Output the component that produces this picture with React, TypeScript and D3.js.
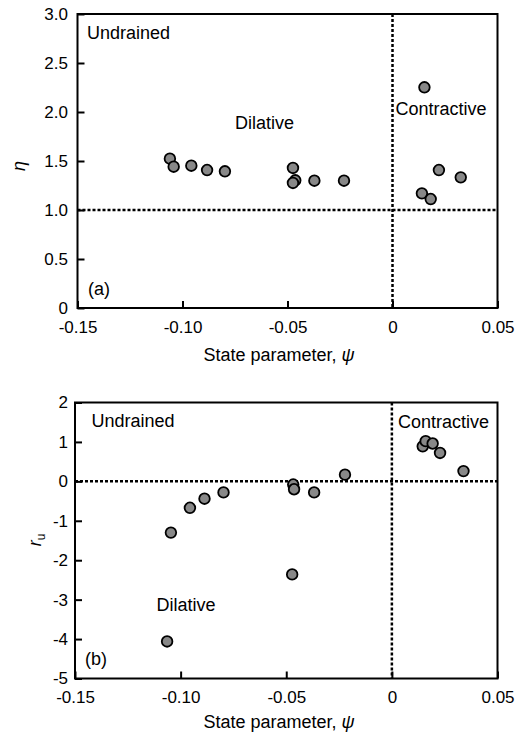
import React, { useEffect, useRef } from "react";
import * as d3 from "d3";

// panel (a): stress ratio eta vs state parameter
const psiA = [-0.106, -0.1042, -0.0958, -0.0883, -0.0798, -0.0474, -0.0463, -0.0474, -0.0372, -0.0231, 0.0152, 0.014, 0.0182, 0.0221, 0.0325];
const etaA = [1.524, 1.442, 1.452, 1.408, 1.395, 1.429, 1.303, 1.276, 1.299, 1.299, 2.252, 1.17, 1.112, 1.408, 1.333];

// panel (b): r_u vs state parameter
const psiB = [-0.1064, -0.1046, -0.0956, -0.0887, -0.0797, -0.0467, -0.0463, -0.0472, -0.0368, -0.0222, 0.0146, 0.016, 0.0193, 0.0228, 0.0339];
const ruB = [-4.06, -1.3, -0.67, -0.44, -0.28, -0.08, -0.2, -2.36, -0.28, 0.17, 0.89, 1.02, 0.96, 0.72, 0.26];

const xTicks = [-0.15, -0.1, -0.05, 0, 0.05];
const xTickLabels = ["-0.15", "-0.10", "-0.05", "0", "0.05"];
const etaTicks = [0, 0.5, 1, 1.5, 2, 2.5, 3];
const etaTickLabels = ["0", "0.5", "1.0", "1.5", "2.0", "2.5", "3.0"];
const ruTicks = [-5, -4, -3, -2, -1, 0, 1, 2];
const ruTickLabels = ["-5", "-4", "-3", "-2", "-1", "0", "1", "2"];

const FONT = "'Liberation Sans', Arial, sans-serif";

const panels = [
  {
    left: 77.5, right: 497.5, top: 14, bottom: 308,
    yDomain: [0, 3], yTicks: etaTicks, yTickLabels: etaTickLabels, yPad: 9.5,
    xs: psiA, ys: etaA, dashY: 1,
    yLabel: { x: 25, y: 166, main: "η", sub: "" },
    xTitle: { x: 279, y: 361 },
    notes: [
      { t: "Undrained", x: 87, y: 38.5 },
      { t: "Dilative", x: 235, y: 129 },
      { t: "Contractive", x: 395.5, y: 115 },
      { t: "(a)", x: 88, y: 295 },
    ],
  },
  {
    left: 75, right: 497.5, top: 402.5, bottom: 678.5,
    yDomain: [-5, 2], yTicks: ruTicks, yTickLabels: ruTickLabels, yPad: 7,
    xs: psiB, ys: ruB, dashY: 0,
    yLabel: { x: 41, y: 540, main: "r", sub: "u" },
    xTitle: { x: 279, y: 727.5 },
    notes: [
      { t: "Undrained", x: 91.5, y: 426.5 },
      { t: "Dilative", x: 156.5, y: 610.5 },
      { t: "Contractive", x: 398, y: 428 },
      { t: "(b)", x: 85, y: 665 },
    ],
  },
];

const App = () => {
  const svgRef = useRef<SVGSVGElement>(null);

  useEffect(() => {
    const svg = d3.select(svgRef.current);
    svg.selectAll("*").remove();

    panels.forEach((p) => {
      const g = svg.append("g");
      const x = d3.scaleLinear().domain([-0.15, 0.05]).range([p.left, p.right]);
      const y = d3.scaleLinear().domain(p.yDomain).range([p.bottom, p.top]);

      // x axis, ticks pointing inward
      const xa = g.append("g")
        .attr("transform", `translate(0,${p.bottom})`)
        .call(
          d3.axisBottom(x)
            .tickValues(xTicks)
            .tickFormat((d, i) => xTickLabels[i])
            .tickSizeInner(-7)
            .tickSizeOuter(0)
            .tickPadding(12.5)
        );
      // y axis
      const ya = g.append("g")
        .attr("transform", `translate(${p.left},0)`)
        .call(
          d3.axisLeft(y)
            .tickValues(p.yTicks)
            .tickFormat((d, i) => p.yTickLabels[i])
            .tickSizeInner(-7)
            .tickSizeOuter(0)
            .tickPadding(p.yPad)
        );
      [xa, ya].forEach((a) => {
        a.select(".domain").remove();
        a.selectAll("line").attr("stroke", "#000").attr("stroke-width", 2);
        a.selectAll("text")
          .attr("fill", "#000")
          .style("font-family", FONT)
          .style("font-size", "17px");
      });

      // frame
      g.append("rect")
        .attr("x", p.left)
        .attr("y", p.top)
        .attr("width", p.right - p.left)
        .attr("height", p.bottom - p.top)
        .attr("fill", "none")
        .attr("stroke", "#000")
        .attr("stroke-width", 2);

      // dotted reference lines
      g.append("line")
        .attr("x1", p.left).attr("x2", p.right)
        .attr("y1", y(p.dashY)).attr("y2", y(p.dashY))
        .attr("stroke", "#000").attr("stroke-width", 2.5)
        .attr("stroke-dasharray", "3,2");
      g.append("line")
        .attr("x1", x(0)).attr("x2", x(0))
        .attr("y1", p.top).attr("y2", p.bottom)
        .attr("stroke", "#000").attr("stroke-width", 2.5)
        .attr("stroke-dasharray", "3,2");

      // points
      g.selectAll(".pt")
        .data(p.xs.map((v, i) => [v, p.ys[i]]))
        .join("circle")
        .attr("class", "pt")
        .attr("cx", (d) => x(d[0]))
        .attr("cy", (d) => y(d[1]))
        .attr("r", 5.3)
        .attr("fill", "#888888")
        .attr("stroke", "#000")
        .attr("stroke-width", 1.8);

      // annotations
      p.notes.forEach((n) => {
        g.append("text")
          .attr("x", n.x).attr("y", n.y)
          .style("font-family", FONT)
          .style("font-size", "18px")
          .text(n.t);
      });

      // x title
      const xt = g.append("text")
        .attr("x", p.xTitle.x).attr("y", p.xTitle.y)
        .attr("text-anchor", "middle")
        .style("font-family", FONT)
        .style("font-size", "18px");
      xt.append("tspan").text("State parameter, ");
      xt.append("tspan").style("font-style", "italic").text("ψ");

      // y title
      const yt = g.append("text")
        .attr("transform", `translate(${p.yLabel.x},${p.yLabel.y}) rotate(-90)`)
        .attr("text-anchor", "middle")
        .style("font-family", FONT)
        .style("font-size", "18px");
      yt.append("tspan").style("font-style", "italic").text(p.yLabel.main);
      if (p.yLabel.sub) {
        yt.append("tspan").attr("dy", 4).style("font-size", "12px").text(p.yLabel.sub);
      }
    });
  }, []);

  return (
    <svg
      ref={svgRef}
      width={520}
      height={732}
      style={{ position: "absolute", left: 0, top: 0, background: "#fff" }}
    ></svg>
  );
};

export default App;
